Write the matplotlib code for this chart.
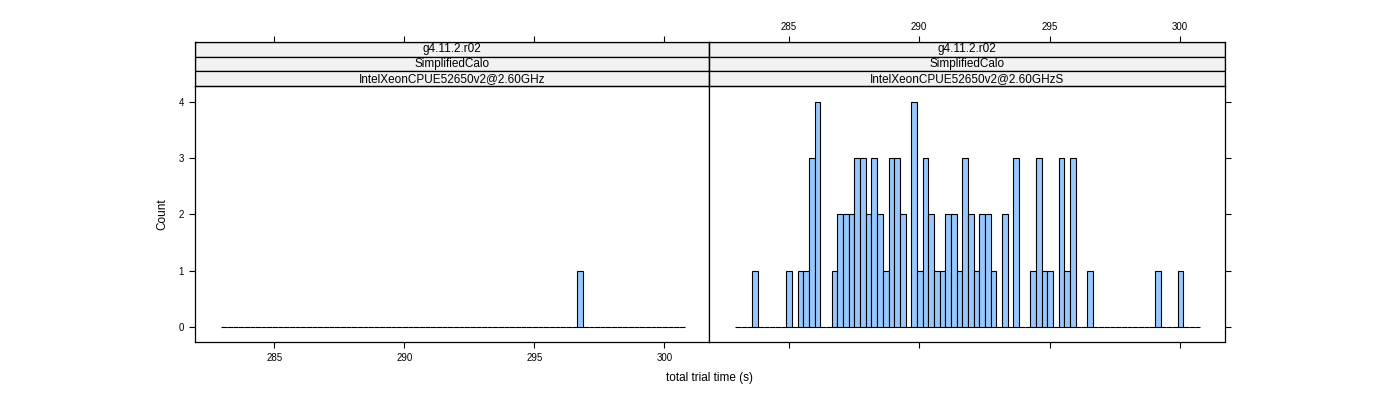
import numpy as np
import matplotlib
matplotlib.use("Agg")
import matplotlib.pyplot as plt
from matplotlib.patches import Rectangle

# histogram breaks shared by both panels
break_lo = 282.96
break_hi = 300.78
nbins = 82

strip_labels = ["g4.11.2.r02", "SimplifiedCalo"]
panel_names = ["IntelXeonCPUE52650v2@2.60GHz", "IntelXeonCPUE52650v2@2.60GHzS"]

counts_left = [0]*82
counts_left[63] = 1

counts_right = [0, 0, 0, 1, 0, 0, 0, 0, 0, 1,
                0, 1, 1, 3, 4, 0, 0, 1, 2, 2,
                2, 3, 3, 2, 3, 2, 1, 3, 3, 2,
                0, 4, 1, 3, 2, 1, 1, 2, 2, 1,
                3, 2, 1, 2, 2, 1, 0, 2, 0, 3,
                0, 0, 1, 3, 1, 1, 0, 3, 1, 3,
                0, 0, 1, 0, 0, 0, 0, 0, 0, 0,
                0, 0, 0, 0, 1, 0, 0, 0, 1, 0,
                0, 0]

xticks = [285, 290, 295, 300]
yticks = [0, 1, 2, 3, 4]
xlim = (281.95, 301.72)
ylim = (-0.27, 4.28)

plt.rcParams['font.family'] = ["Liberation Sans", "DejaVu Sans"]
plt.rcParams['xtick.direction'] = 'out'
plt.rcParams['ytick.direction'] = 'out'

barcol = "#96C8FF"
stripcol = "#F2F2F2"
W, H = 1400.0, 400.0

def px(x0, y0, x1, y1):
    # pixel box (top-left origin) -> figure fraction rect
    return [x0/W, 1-y1/H, (x1-x0)/W, (y1-y0)/H]

def main():
    fig = plt.figure(figsize=(14, 4), dpi=100)
    breaks = np.linspace(break_lo, break_hi, nbins+1)
    panels = [(195, 709, counts_left), (709, 1225, counts_right)]
    for i, (x0, x1, cnt) in enumerate(panels):
        ax = fig.add_axes(px(x0, 86, x1, 342))
        ax.bar(breaks[:-1], cnt, width=np.diff(breaks), align="edge",
               color=barcol, edgecolor="black", linewidth=0.8)
        ax.set_xlim(*xlim)
        ax.set_ylim(*ylim)
        ax.set_xticks(xticks)
        ax.set_yticks(yticks)
        for s in ax.spines.values():
            s.set_linewidth(0.9)
        ax.tick_params(length=4, width=0.8, labelsize=7, pad=4)
        if i == 0:
            ax.tick_params(axis="y", left=True, right=False, labelleft=True)
            ax.tick_params(axis="x", bottom=True, labelbottom=True)
        else:
            ax.tick_params(axis="y", left=False, right=True, labelleft=False)
            ax.tick_params(axis="x", bottom=True, labelbottom=False)
        # strip block with top axis ticks
        sx = fig.add_axes(px(x0, 42, x1, 86))
        sx.set_xlim(*xlim)
        sx.set_ylim(0, 3)
        sx.set_yticks([])
        sx.set_xticks(xticks)
        sx.xaxis.tick_top()
        sx.tick_params(axis="x", length=4, width=0.8, labelsize=7, pad=3,
                       labeltop=(i == 1), bottom=False, labelbottom=False)
        labs = strip_labels + [panel_names[i]]
        for k, lab in enumerate(labs):
            yb = 2 - k
            sx.add_patch(Rectangle((xlim[0], yb), xlim[1]-xlim[0], 1,
                                   facecolor=stripcol, edgecolor="black",
                                   linewidth=0.9))
            sx.text(np.mean(xlim), yb+0.5, lab, ha="center", va="center",
                    fontsize=8.5)
        for s in sx.spines.values():
            s.set_linewidth(0.9)
    fig.text(710/W, 1-378/H, "total trial time (s)", ha="center", va="center",
             fontsize=8.5)
    fig.text(162/W, 1-214/H, "Count", ha="center", va="center",
             rotation=90, fontsize=8.5)
    fig.savefig("out.png", dpi=100)
    plt.close()

if __name__ == "__main__":
    main()
